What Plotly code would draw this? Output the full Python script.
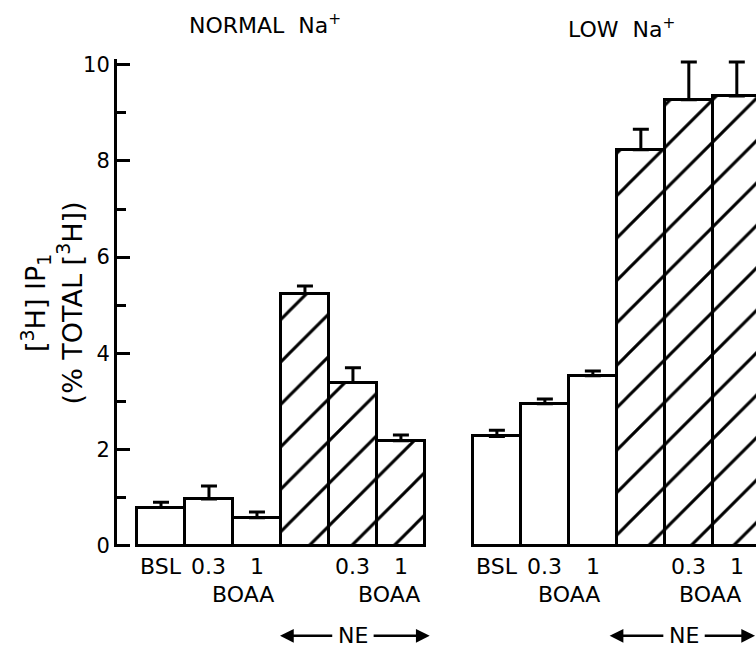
import plotly.graph_objects as go

# ---- data ----
normal_labels = ["BSL", "0.3", "1", "", "0.3", "1"]
low_labels = ["BSL", "0.3", "1", "", "0.3", "1"]
normal_means = [0.79, 0.97, 0.58, 5.24, 3.39, 2.18]
normal_err = [0.11, 0.27, 0.12, 0.16, 0.31, 0.12]
low_means = [2.27, 2.95, 3.53, 8.23, 9.27, 9.35]
low_err = [0.13, 0.10, 0.10, 0.43, 0.79, 0.71]
ne_flags = [False, False, False, True, True, True]
y_ticks = [0, 2, 4, 6, 8, 10]

normal_pos = list(range(0, 6))
low_pos = list(range(7, 13))

FONT = "DejaVu Sans"
shapes_pat = ["/" if f else "" for f in ne_flags]

fig = go.Figure()
for pos, means, err in [(normal_pos, normal_means, normal_err),
                        (low_pos, low_means, low_err)]:
    fig.add_trace(go.Bar(
        x=pos, y=means, width=1,
        marker=dict(color="white",
                    line=dict(color="black", width=3),
                    pattern=dict(shape=shapes_pat, fgcolor="black", fgopacity=1,
                                 bgcolor="white", size=30, solidity=0.1)),
        error_y=dict(type="data", symmetric=False, array=err,
                     arrayminus=[0] * len(err), color="black",
                     thickness=3, width=8),
        showlegend=False,
    ))


def txt(x, y, t, size=22, xref="x", yref="paper", **kw):
    fig.add_annotation(x=x, y=y, xref=xref, yref=yref, text=t, showarrow=False,
                       font=dict(size=size, color="black", family=FONT), **kw)


# first-row category labels
for pos, labs in [(normal_pos, normal_labels), (low_pos, low_labels)]:
    for p, t in zip(pos, labs):
        if t:
            txt(p, -0.01, t, yanchor="top")
# BOAA labels
for p in [1.7, 4.75, 8.5, 11.45]:
    txt(p, -0.068, "BOAA", yanchor="top")
# NE labels with arrows
for c, l, r in [(4.0, 2.48, 5.6), (10.9, 9.35, 12.38)]:
    txt(c, -0.182, "NE", yanchor="middle")
    for tip, base in [(l, c - 0.4), (r, c + 0.4)]:
        fig.add_annotation(x=tip, y=-0.182, ax=base, ay=0, xref="x",
                           yref="paper", axref="x", ayref="pixel", text="",
                           showarrow=True, arrowhead=2, arrowsize=1.1,
                           arrowwidth=2.5, arrowcolor="black")
# panel titles
txt(2.17, 1.105, "NORMAL  Na<sup>+</sup>")
txt(9.6, 1.097, "LOW  Na<sup>+</sup>")
# y title
txt(-0.162, 0.5, "[<sup>3</sup>H] IP<sub>1</sub>", size=27, xref="paper",
    textangle=-90)
txt(-0.105, 0.5, "(% TOTAL [<sup>3</sup>H])", size=27, xref="paper",
    textangle=-90)

fig.update_layout(
    width=756, height=648,
    margin=dict(l=117, r=0, t=59, b=101),
    paper_bgcolor="white", plot_bgcolor="white",
    bargap=0,
    xaxis=dict(range=[-0.917, 12.4], showgrid=False, zeroline=False,
               showline=False, showticklabels=False, ticks=""),
    yaxis=dict(range=[-0.03, 10.12], tickvals=y_ticks, showgrid=False,
               zeroline=False, showline=True, linecolor="black", linewidth=3,
               ticks="inside", ticklen=13, tickwidth=3, tickcolor="black",
               minor=dict(dtick=1, ticks="inside", ticklen=9, tickwidth=3,
                          tickcolor="black", showgrid=False),
               tickfont=dict(size=21, color="black", family=FONT)),
)
fig.write_html("out.html")
